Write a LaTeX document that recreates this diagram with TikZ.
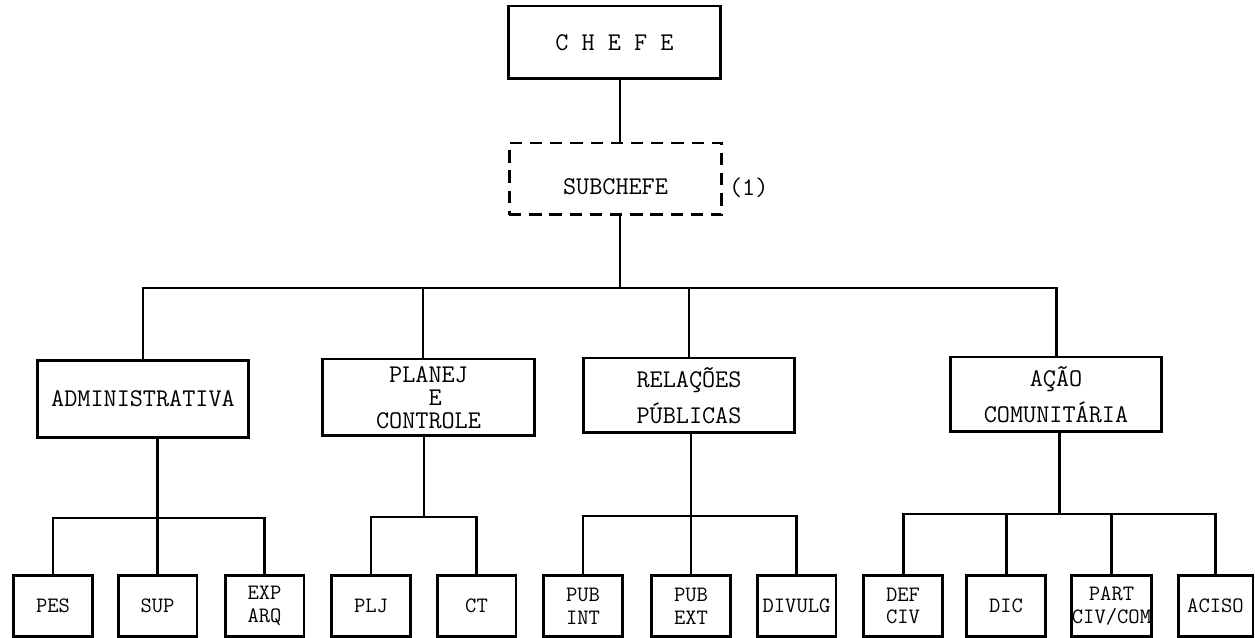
\documentclass[tikz,border=0pt]{standalone}
\usepackage{fontspec}
\begin{document}
\begin{tikzpicture}[x=0.02cm,y=-0.02cm,
    box/.style={draw,line width=1.7pt,minimum width=4.24cm,minimum height=1.54cm,
      align=center,font=\ttfamily\fontsize{14.5}{20.4}\selectfont},
    dashbox/.style={box,dash pattern=on 7pt off 4.5pt},
    leaf/.style={draw,line width=1.7pt,minimum width=1.58cm,minimum height=1.22cm,
      inner sep=0pt,align=center,font=\ttfamily\fontsize{12.5}{13}\selectfont},
    link/.style={line width=1.7pt}]
    \useasboundingbox (0,0) rectangle (1255,638);
    % Top
    \node[box,minimum width=4.26cm,minimum height=1.46cm] (chefe) at (614.5,42.5) {C H E F E};
    \node[dashbox,minimum width=4.26cm,minimum height=1.44cm,text height=19pt,text depth=1.6pt] (sub) at (615.5,179) {SUBCHEFE};
    \node[anchor=west,inner sep=3pt,font=\ttfamily\fontsize{14.5}{15}\selectfont] (note) at ([yshift=-0.18cm]sub.east) {(1)};
    % Sections
    \node[box] (adm) at (143,399) {ADMINISTRATIVA};
    \node[box,font=\ttfamily\fontsize{14.5}{13.2}\selectfont] (pla) at (428.5,397.5) {PLANEJ\\\phantom{X}E\\CONTROLE};
    \node[box,minimum height=1.5cm] (rel) at (689,395.5) {RELAÇÕES\\PÚBLICAS};
    \node[box,minimum height=1.5cm] (aca) at (1056,394.5) {AÇÃO\\COMUNITÁRIA};
    % Units
    \node[leaf] (pes) at (53,606) {PES};
    \node[leaf] (sup) at (157.5,606) {SUP};
    \node[leaf] (exp) at (264.5,606) {EXP\\ARQ};
    \node[leaf] (plj) at (371,606) {PLJ};
    \node[leaf] (ct) at (476.5,606) {CT};
    \node[leaf] (pubint) at (583,606) {PUB\\INT};
    \node[leaf] (pubext) at (691,606) {PUB\\EXT};
    \node[leaf] (divulg) at (796.5,606) {DIVULG};
    \node[leaf] (defciv) at (903,606) {DEF\\CIV};
    \node[leaf] (dic) at (1006,606) {DIC};
    \node[leaf] (part) at (1111.5,606) {PART\\CIV/COM};
    \node[leaf,minimum width=1.5cm] (aciso) at (1215.5,606) {ACISO};
    % Buses
    \coordinate (spine) at (620,288);
    \coordinate (plabus) at (424,517);
    \coordinate (acabus) at (1059,514);
    % Lines
    \draw[link] (chefe.south -| spine) -- (sub.north -| spine);
    \draw[link] (sub.south -| spine) -- (spine);
    \draw[link] (adm.north) |- (spine) -| (aca.north);
    \draw[link] ([xshift=-0.11cm]pla.north) -- ([xshift=-0.11cm]pla.north |- spine);
    \draw[link] (rel.north) -- (rel.north |- spine);
    \draw[link] (adm.south -| sup.north) -- (sup.north);
    \draw[link] (pes.north) |- (sup.north |- 0,518) -| (exp.north);
    \draw[link] (pla.south -| plabus) -- (plabus);
    \draw[link] (plj.north) |- (plabus) -| (ct.north);
    \draw[link] (rel.south -| pubext.north) -- (pubext.north);
    \draw[link] (pubint.north) |- (pubext.north |- 0,516) -| (divulg.north);
    \draw[link] (aca.south -| acabus) -- (acabus);
    \draw[link] (defciv.north) |- (acabus) -| (aciso.north);
    \draw[link] (dic.north) -- (dic.north |- acabus);
    \draw[link] (part.north) -- (part.north |- acabus);
\end{tikzpicture}
\end{document}
